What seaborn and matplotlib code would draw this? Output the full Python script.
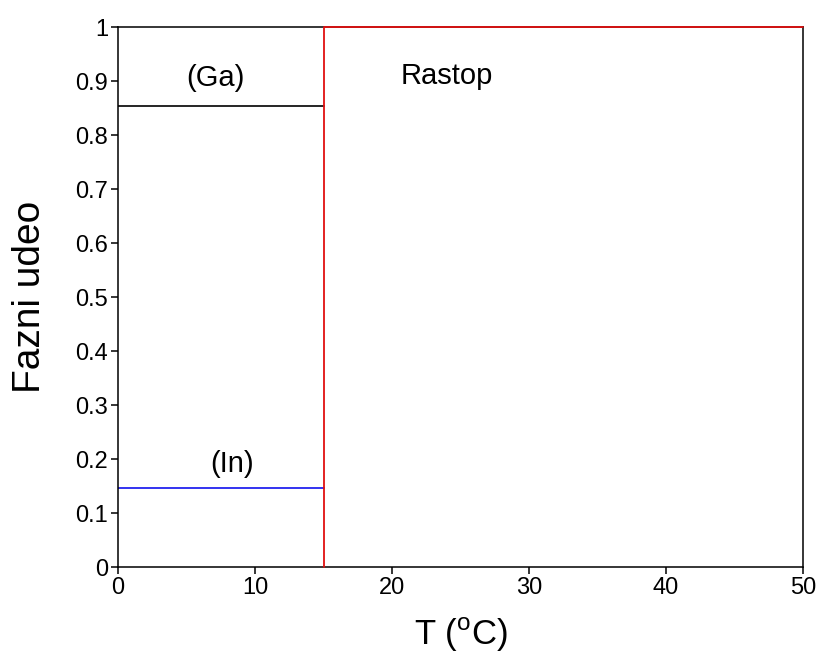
import matplotlib
matplotlib.use("Agg")
import matplotlib.pyplot as plt
import seaborn as sns
import pandas as pd

# Data
T_ga = [0, 15]
frac_ga = [0.853, 0.853]
T_in = [0, 15]
frac_in = [0.147, 0.147]
T_melt = [15, 15, 50]
frac_melt = [0.0, 1.0, 1.0]

x_ticks = [0, 10, 20, 30, 40, 50]
y_ticks = [0, 0.1, 0.2, 0.3, 0.4, 0.5, 0.6, 0.7, 0.8, 0.9, 1.0]
y_tick_labels = ["0", "0.1", "0.2", "0.3", "0.4", "0.5", "0.6", "0.7", "0.8", "0.9", "1"]

sns.set_theme(style="ticks")
plt.rcParams["font.family"] = ["Liberation Sans", "DejaVu Sans"]
plt.rcParams["mathtext.fontset"] = "custom"
plt.rcParams["mathtext.rm"] = "Liberation Sans"
plt.rcParams["text.color"] = "black"
plt.rcParams["axes.labelcolor"] = "black"
plt.rcParams["xtick.color"] = "black"
plt.rcParams["ytick.color"] = "black"

fig = plt.figure(figsize=(8.17, 6.53), dpi=100)
ax = fig.add_axes([118 / 817, 1 - 567 / 653, (803 - 118) / 817, (567 - 27) / 653])

df_ga = pd.DataFrame({"T": T_ga, "f": frac_ga})
df_in = pd.DataFrame({"T": T_in, "f": frac_in})
df_melt = pd.DataFrame({"T": T_melt, "f": frac_melt})

sns.lineplot(data=df_ga, x="T", y="f", color="black", lw=1.2, ax=ax, estimator=None, sort=False)
sns.lineplot(data=df_in, x="T", y="f", color="#1010ee", lw=1.2, ax=ax, estimator=None, sort=False)
sns.lineplot(data=df_melt, x="T", y="f", color="#e01010", lw=1.3, ax=ax, estimator=None, sort=False,
             clip_on=False, zorder=5)

ax.set_xlim(0, 50)
ax.set_ylim(0, 1)
ax.set_xticks(x_ticks)
ax.set_xticklabels([str(v) for v in x_ticks])
ax.set_yticks(y_ticks)
ax.set_yticklabels(y_tick_labels)
ax.tick_params(axis="both", direction="out", length=5, width=1.1, labelsize=17,
               color="black", labelcolor="black", pad=2)

for s in ax.spines.values():
    s.set_linewidth(1.1)
    s.set_color("black")

ax.set_xlabel(r"T ($^{\rm o}$C)", fontsize=25, labelpad=12, color="black")
ax.set_ylabel("Fazni udeo", fontsize=28, labelpad=20, color="black")

ax.text(7.1, 0.905, "(Ga)", fontsize=21, ha="center", va="center", color="black")
ax.text(8.3, 0.19, "(In)", fontsize=21, ha="center", va="center", color="black")
ax.text(24.0, 0.91, "Rastop", fontsize=21, ha="center", va="center", color="black")

fig.savefig("out.png", dpi=100)
